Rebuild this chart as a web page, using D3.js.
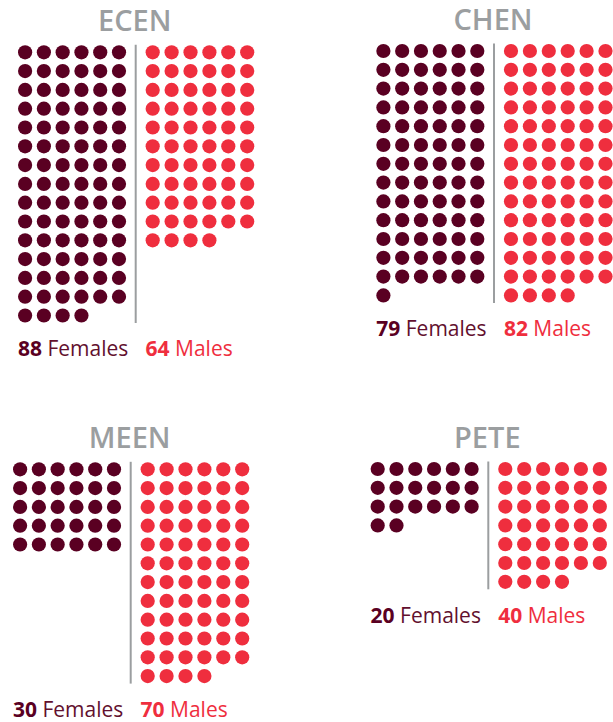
<html>

<head>
    <style>
        body { margin: 0; background: #fff; }
        text { font-family: "Open Sans", sans-serif; }
    </style>
</head>

<body>
    <svg id="container" height="722" width="613"></svg>
</body>
<script src="https://cdn.jsdelivr.net/npm/d3@7"></script>
<script>
    // data
    let majors = ["ECEN", "CHEN", "MEEN", "PETE"]
    let females = [88, 79, 30, 20]
    let males = [64, 82, 70, 40]

    // layout: divider x and first row y for each panel
    let panelX = [135.7, 494, 130.7, 488.3]
    let panelY = [52.3, 51, 469.3, 469]

    let perRow = 6
    let step = 18.8
    let radius = 7.1
    let femaleColor = "#5a0022"
    let maleColor = "#ef2e3e"
    let gray = "#9b9ea0"

    let svg = d3.select("#container")

    majors.forEach((major, i) => {
        let dx = panelX[i]
        let y0 = panelY[i]
        let g = svg.append("g")

        let xF = d3.scaleLinear().domain([0, perRow - 1]).range([dx - 110.6, dx - 16.7])
        let xM = d3.scaleLinear().domain([0, perRow - 1]).range([dx + 17, dx + 111.5])
        let rows = Math.max(Math.ceil(females[i] / perRow), Math.ceil(males[i] / perRow))
        let y = d3.scaleLinear().domain([0, 1]).range([y0, y0 + step])

        g.append("text")
            .attr("x", dx - 1)
            .attr("y", y0 - 21)
            .attr("text-anchor", "middle")
            .attr("font-size", 29)
            .attr("font-weight", 600)
            .attr("fill", gray)
            .text(major)

        g.selectAll("circle.f").data(d3.range(females[i]))
            .enter().append("circle")
            .attr("class", "f")
            .attr("cx", d => xF(d % perRow))
            .attr("cy", d => y(Math.floor(d / perRow)))
            .attr("r", radius)
            .attr("fill", femaleColor)

        g.selectAll("circle.m").data(d3.range(males[i]))
            .enter().append("circle")
            .attr("class", "m")
            .attr("cx", d => xM(d % perRow))
            .attr("cy", d => y(Math.floor(d / perRow)))
            .attr("r", radius)
            .attr("fill", maleColor)

        g.append("line")
            .attr("x1", dx).attr("x2", dx)
            .attr("y1", y(0) - 7.5)
            .attr("y2", y(rows - 1) + 7.5)
            .attr("stroke", gray)
            .attr("stroke-width", 2)

        let labelY = y(rows - 1) + 40.7

        let tf = g.append("text")
            .attr("x", xF(0) - radius)
            .attr("y", labelY)
            .attr("font-size", 21)
            .attr("fill", femaleColor)
        tf.append("tspan").attr("font-weight", 700).text(females[i])
        tf.append("tspan").attr("fill", "#62102e").text(" Females")

        let tm = g.append("text")
            .attr("x", xM(0) - radius)
            .attr("y", labelY)
            .attr("font-size", 21)
            .attr("fill", maleColor)
        tm.append("tspan").attr("font-weight", 700).text(males[i])
        tm.append("tspan").text(" Males")
    })
</script>

</html>
